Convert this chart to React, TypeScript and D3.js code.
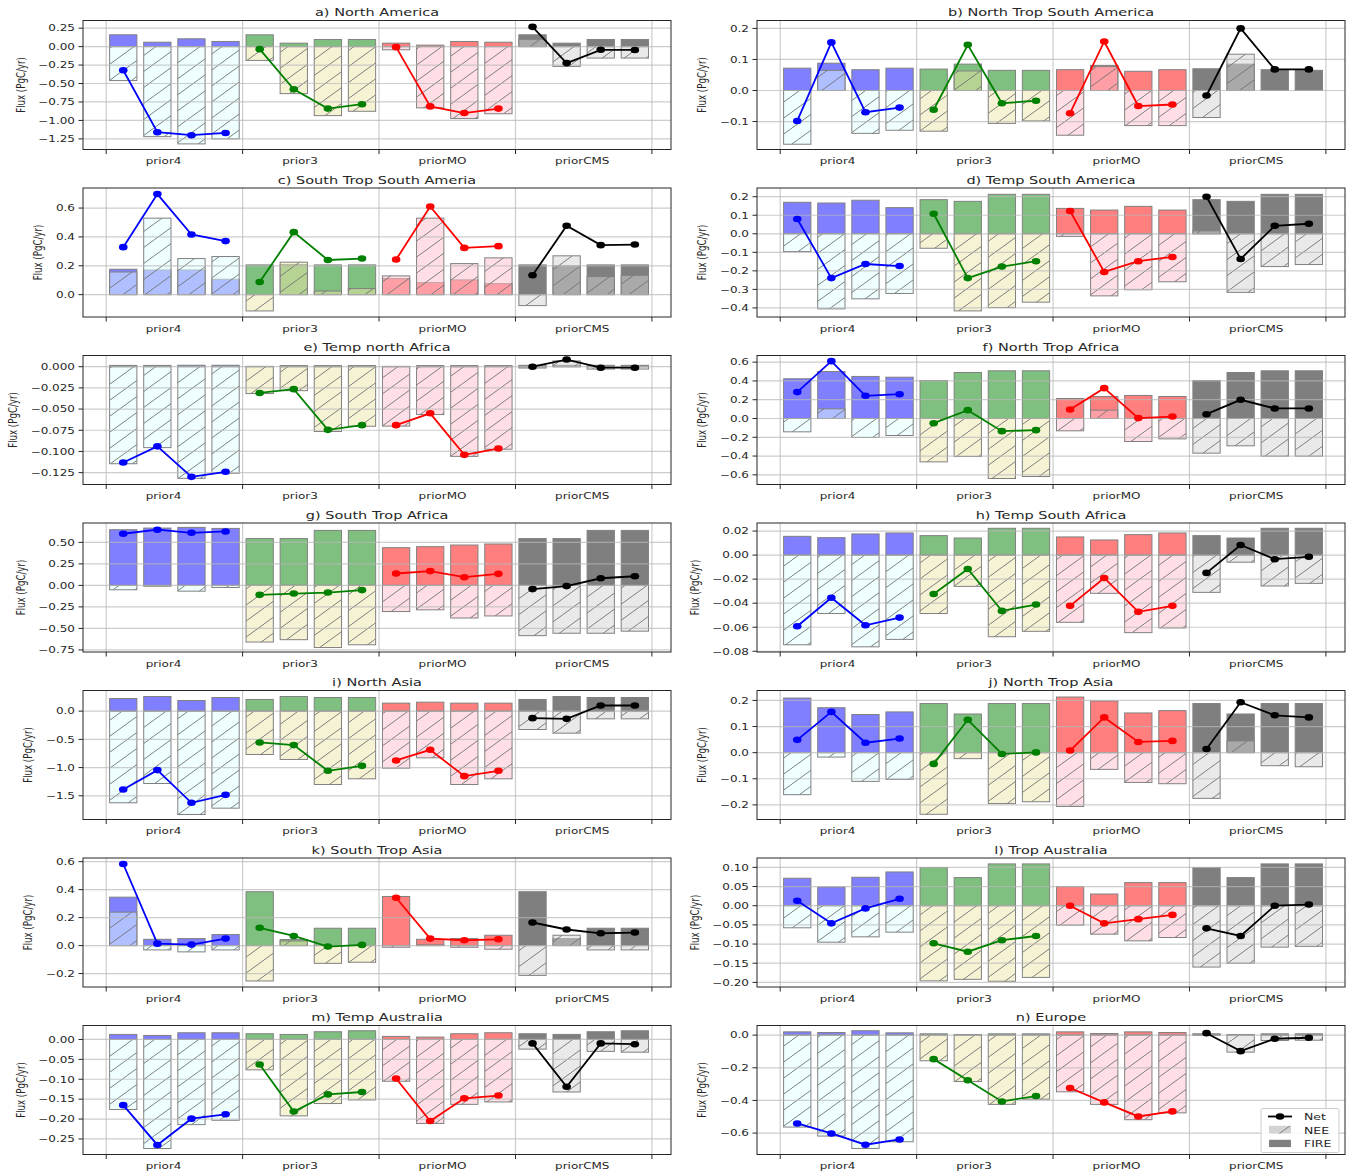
import React from 'react';
import * as d3 from 'd3';

// ---- categories / labels ----
const PRIORS = ['prior4', 'prior3', 'priorMO', 'priorCMS'];
const TITLES = [
  'a) North America', 'b) North Trop South America',
  'c) South Trop South Ameria', 'd) Temp South America',
  'e) Temp north Africa', 'f) North Trop Africa',
  'g) South Trop Africa', 'h) Temp South Africa',
  'i) North Asia', 'j) North Trop Asia',
  'k) South Trop Asia', 'l) Trop Australia',
  'm) Temp Australia', 'n) Europe',
];
const LEGEND_LABELS = ['Net', 'NEE', 'FIRE'];

// ---- values (PgC/yr), 4 experiments per prior, priors in PRIORS order ----
const FIRE_A = [0.16, 0.06, 0.106, 0.07, 0.16, 0.047, 0.097, 0.097, 0.047, 0.02, 0.07, 0.06, 0.16, 0.047, 0.097, 0.097];
const NEE_A = [-0.46, -1.22, -1.318, -1.25, -0.187, -0.637, -0.935, -0.876, -0.043, -0.83, -0.975, -0.91, 0.10, -0.268, -0.155, -0.155];
const NET_A = [-0.32, -1.16, -1.20, -1.17, -0.034, -0.579, -0.84, -0.78, -0.007, -0.81, -0.90, -0.84, 0.268, -0.223, -0.043, -0.045];
const YLIM_A = [-1.394, 0.354];
const TICKS_A = [0.25, 0, -0.25, -0.5, -0.75, -1.0, -1.25];

const FIRE_B = [0.072, 0.088, 0.067, 0.072, 0.069, 0.085, 0.065, 0.065, 0.067, 0.081, 0.062, 0.067, 0.07, 0.085, 0.067, 0.065];
const NEE_B = [-0.173, 0.065, -0.138, -0.128, -0.131, 0.063, -0.106, -0.098, -0.144, 0.077, -0.113, -0.113, -0.087, 0.117, 0.001, 0.002];
const NET_B = [-0.098, 0.155, -0.070, -0.055, -0.062, 0.147, -0.041, -0.033, -0.073, 0.158, -0.050, -0.045, -0.016, 0.2, 0.068, 0.068];
const YLIM_B = [-0.19, 0.2255];
const TICKS_B = [0.2, 0.1, 0, -0.1];

const FIRE_C = [0.176, 0.171, 0.171, 0.107, 0.206, 0.208, 0.206, 0.206, 0.111, 0.083, 0.102, 0.076, 0.206, 0.2, 0.206, 0.206];
const NEE_C = [0.157, 0.53, 0.25, 0.264, -0.113, 0.225, 0.025, 0.042, 0.13, 0.53, 0.215, 0.255, -0.076, 0.269, 0.125, 0.134];
const NET_C = [0.329, 0.697, 0.417, 0.371, 0.088, 0.433, 0.24, 0.25, 0.243, 0.611, 0.324, 0.336, 0.134, 0.477, 0.343, 0.347];
const YLIM_C = [-0.155, 0.739];
const TICKS_C = [0.6, 0.4, 0.2, 0];

const FIRE_D = [0.17, 0.166, 0.181, 0.141, 0.184, 0.175, 0.213, 0.213, 0.137, 0.128, 0.148, 0.128, 0.184, 0.175, 0.213, 0.213];
const NEE_D = [-0.096, -0.405, -0.351, -0.322, -0.078, -0.416, -0.398, -0.369, -0.014, -0.335, -0.302, -0.259, 0.016, -0.316, -0.177, -0.166];
const NET_D = [0.08, -0.239, -0.163, -0.174, 0.108, -0.239, -0.177, -0.148, 0.123, -0.206, -0.148, -0.125, 0.2, -0.136, 0.043, 0.054];
const YLIM_D = [-0.449, 0.247];
const TICKS_D = [0.2, 0.1, 0, -0.1, -0.2, -0.3, -0.4];

const FIRE_E = [0.0015, 0.0015, 0.0017, 0.0017, 0.0004, 0.0013, 0.0013, 0.0013, 0.0004, 0.0013, 0.0013, 0.0013, 0.0016, 0.0016, 0.0016, 0.0016];
const NEE_E = [-0.1145, -0.0955, -0.1317, -0.1257, -0.0317, -0.0283, -0.0765, -0.0703, -0.0701, -0.0565, -0.1058, -0.0974, -0.0016, 0.0068, -0.0028, -0.0028];
const NET_E = [-0.113, -0.094, -0.130, -0.124, -0.031, -0.0265, -0.0745, -0.069, -0.069, -0.055, -0.104, -0.0966, 0.0, 0.0084, -0.0012, -0.0012];
const YLIM_E = [-0.139, 0.0132];
const TICKS_E = [0, -0.025, -0.05, -0.075, -0.1, -0.125];

const FIRE_F = [0.423, 0.50, 0.448, 0.44, 0.405, 0.49, 0.508, 0.508, 0.213, 0.234, 0.245, 0.234, 0.405, 0.49, 0.508, 0.508];
const NEE_F = [-0.142, 0.103, -0.202, -0.181, -0.462, -0.405, -0.639, -0.618, -0.131, 0.089, -0.245, -0.217, -0.369, -0.291, -0.401, -0.401];
const NET_F = [0.281, 0.611, 0.242, 0.259, -0.05, 0.089, -0.135, -0.124, 0.096, 0.323, 0.004, 0.021, 0.046, 0.199, 0.107, 0.107];
const YLIM_F = [-0.703, 0.671];
const TICKS_F = [0.6, 0.4, 0.2, 0, -0.2, -0.4, -0.6];

const FIRE_G = [0.647, 0.666, 0.674, 0.662, 0.544, 0.544, 0.639, 0.639, 0.438, 0.45, 0.469, 0.481, 0.544, 0.544, 0.639, 0.639];
const NEE_G = [-0.051, -0.01, -0.067, -0.024, -0.658, -0.631, -0.722, -0.69, -0.304, -0.284, -0.379, -0.355, -0.584, -0.556, -0.556, -0.532];
const NET_G = [0.60, 0.647, 0.611, 0.627, -0.11, -0.095, -0.083, -0.055, 0.138, 0.166, 0.095, 0.134, -0.043, -0.008, 0.083, 0.106];
const YLIM_G = [-0.774, 0.725];
const TICKS_G = [0.5, 0.25, 0, -0.25, -0.5, -0.75];

const FIRE_H = [0.0156, 0.0145, 0.0176, 0.0184, 0.0162, 0.0142, 0.0223, 0.0223, 0.0151, 0.0126, 0.017, 0.0184, 0.0162, 0.0142, 0.0223, 0.0223];
const NEE_H = [-0.0746, -0.0486, -0.0763, -0.0701, -0.0486, -0.026, -0.0679, -0.0634, -0.0559, -0.0318, -0.0645, -0.0606, -0.031, -0.0059, -0.0257, -0.0235];
const NET_H = [-0.0592, -0.0355, -0.0584, -0.052, -0.0324, -0.0115, -0.0464, -0.0411, -0.0422, -0.019, -0.0472, -0.0422, -0.0148, 0.0084, -0.0034, -0.0014];
const YLIM_H = [-0.0806, 0.0267];
const TICKS_H = [0.02, 0, -0.02, -0.04, -0.06, -0.08];

const FIRE_I = [0.224, 0.26, 0.189, 0.242, 0.207, 0.26, 0.242, 0.242, 0.142, 0.159, 0.142, 0.142, 0.207, 0.26, 0.242, 0.242];
const NEE_I = [-1.624, -1.282, -1.831, -1.719, -0.768, -0.856, -1.30, -1.199, -1.01, -0.827, -1.30, -1.199, -0.325, -0.39, -0.136, -0.136];
const NET_I = [-1.388, -1.045, -1.624, -1.483, -0.555, -0.602, -1.057, -0.969, -0.874, -0.685, -1.152, -1.057, -0.124, -0.136, 0.10, 0.10];
const YLIM_I = [-1.92, 0.366];
const TICKS_I = [0, -0.5, -1.0, -1.5];

const FIRE_J = [0.209, 0.172, 0.146, 0.156, 0.188, 0.148, 0.188, 0.188, 0.213, 0.198, 0.152, 0.161, 0.188, 0.148, 0.188, 0.188];
const NEE_J = [-0.161, -0.017, -0.11, -0.102, -0.236, -0.023, -0.195, -0.188, -0.206, -0.064, -0.114, -0.119, -0.175, 0.045, -0.05, -0.054];
const NET_J = [0.049, 0.156, 0.038, 0.054, -0.043, 0.126, -0.005, 0.001, 0.008, 0.135, 0.041, 0.045, 0.014, 0.193, 0.143, 0.135];
const YLIM_J = [-0.256, 0.238];
const TICKS_J = [0.2, 0.1, 0, -0.1, -0.2];

const FIRE_K = [0.346, 0.045, 0.05, 0.079, 0.385, 0.043, 0.124, 0.124, 0.351, 0.045, 0.05, 0.074, 0.385, 0.05, 0.124, 0.124];
const NEE_K = [0.239, -0.031, -0.045, -0.031, -0.253, 0.033, -0.127, -0.119, -0.012, 0.005, -0.012, -0.026, -0.213, 0.074, -0.031, -0.031];
const NET_K = [0.583, 0.014, 0.007, 0.05, 0.127, 0.069, -0.007, 0.005, 0.342, 0.05, 0.038, 0.045, 0.165, 0.115, 0.088, 0.093];
const YLIM_K = [-0.296, 0.626];
const TICKS_K = [0.6, 0.4, 0.2, 0, -0.2];

const FIRE_L = [0.0716, 0.0489, 0.0742, 0.088, 0.0995, 0.0733, 0.109, 0.109, 0.0497, 0.0305, 0.0602, 0.0602, 0.0995, 0.0733, 0.109, 0.109];
const NEE_L = [-0.0576, -0.0951, -0.0812, -0.069, -0.196, -0.192, -0.197, -0.187, -0.0506, -0.0742, -0.0916, -0.0829, -0.16, -0.150, -0.108, -0.106];
const NET_L = [0.013, -0.046, -0.007, 0.018, -0.098, -0.120, -0.090, -0.079, 0.0, -0.046, -0.035, -0.024, -0.059, -0.079, 0.0, 0.003];
const YLIM_L = [-0.212, 0.1244];
const TICKS_L = [0.1, 0.05, 0, -0.05, -0.1, -0.15, -0.2];

const FIRE_M = [0.0126, 0.010, 0.0168, 0.0168, 0.0143, 0.0126, 0.0193, 0.0218, 0.0076, 0.0059, 0.0143, 0.0168, 0.0143, 0.0126, 0.0193, 0.0218];
const NEE_M = [-0.176, -0.274, -0.214, -0.203, -0.0763, -0.192, -0.161, -0.152, -0.105, -0.211, -0.163, -0.157, -0.0243, -0.132, -0.030, -0.032];
const NET_M = [-0.165, -0.265, -0.199, -0.188, -0.063, -0.181, -0.138, -0.132, -0.098, -0.205, -0.148, -0.141, -0.010, -0.119, -0.010, -0.012];
const YLIM_M = [-0.289, 0.035];
const TICKS_M = [0, -0.05, -0.1, -0.15, -0.2, -0.25];

const FIRE_N = [0.020, 0.016, 0.027, 0.014, 0.008, 0.004, 0.008, 0.008, 0.020, 0.010, 0.020, 0.016, 0.008, 0.004, 0.008, 0.008];
const NEE_N = [-0.563, -0.618, -0.694, -0.653, -0.157, -0.284, -0.424, -0.392, -0.347, -0.424, -0.518, -0.476, 0.004, -0.104, -0.033, -0.031];
const NET_N = [-0.541, -0.602, -0.671, -0.639, -0.147, -0.276, -0.406, -0.373, -0.324, -0.412, -0.498, -0.467, 0.012, -0.098, -0.022, -0.016];
const YLIM_N = [-0.731, 0.059];
const TICKS_N = [0, -0.2, -0.4, -0.6];

type PanelData = {
  title: string; fire: number[]; nee: number[]; net: number[];
  ylim: number[]; ticks: number[]; dec: number;
};

const PANELS: PanelData[] = [
  { title: TITLES[0], fire: FIRE_A, nee: NEE_A, net: NET_A, ylim: YLIM_A, ticks: TICKS_A, dec: 2 },
  { title: TITLES[1], fire: FIRE_B, nee: NEE_B, net: NET_B, ylim: YLIM_B, ticks: TICKS_B, dec: 1 },
  { title: TITLES[2], fire: FIRE_C, nee: NEE_C, net: NET_C, ylim: YLIM_C, ticks: TICKS_C, dec: 1 },
  { title: TITLES[3], fire: FIRE_D, nee: NEE_D, net: NET_D, ylim: YLIM_D, ticks: TICKS_D, dec: 1 },
  { title: TITLES[4], fire: FIRE_E, nee: NEE_E, net: NET_E, ylim: YLIM_E, ticks: TICKS_E, dec: 3 },
  { title: TITLES[5], fire: FIRE_F, nee: NEE_F, net: NET_F, ylim: YLIM_F, ticks: TICKS_F, dec: 1 },
  { title: TITLES[6], fire: FIRE_G, nee: NEE_G, net: NET_G, ylim: YLIM_G, ticks: TICKS_G, dec: 2 },
  { title: TITLES[7], fire: FIRE_H, nee: NEE_H, net: NET_H, ylim: YLIM_H, ticks: TICKS_H, dec: 2 },
  { title: TITLES[8], fire: FIRE_I, nee: NEE_I, net: NET_I, ylim: YLIM_I, ticks: TICKS_I, dec: 1 },
  { title: TITLES[9], fire: FIRE_J, nee: NEE_J, net: NET_J, ylim: YLIM_J, ticks: TICKS_J, dec: 1 },
  { title: TITLES[10], fire: FIRE_K, nee: NEE_K, net: NET_K, ylim: YLIM_K, ticks: TICKS_K, dec: 1 },
  { title: TITLES[11], fire: FIRE_L, nee: NEE_L, net: NET_L, ylim: YLIM_L, ticks: TICKS_L, dec: 2 },
  { title: TITLES[12], fire: FIRE_M, nee: NEE_M, net: NET_M, ylim: YLIM_M, ticks: TICKS_M, dec: 2 },
  { title: TITLES[13], fire: FIRE_N, nee: NEE_N, net: NET_N, ylim: YLIM_N, ticks: TICKS_N, dec: 1 },
];

// ---- styling ----
const FIRE_COLORS = ['blue', 'green', 'red', 'black'];
const NEE_COLORS = ['lightcyan', 'palegoldenrod', 'pink', 'lightgray'];
const LINE_COLORS = ['blue', '#008000', 'red', 'black'];

const W = 1363;
const H = 1175;
const COL_X = [83, 757];
const AX_W = 588;
const ROW_Y0 = 20.5;
const ROW_STEP = 167.5;
const AX_H = 129;
const SQ = 0.72; // vertical text compression of the figure
const FONT = "'DejaVu Sans', Verdana, sans-serif";
const HW = 22;
const HH = 16;
const GRID = '#b8b8b8';
const LABEL_OFFSET = 0.29; // group labels start this far into each group

function textWidth(s: string, size: number) {
  let w = 0;
  for (const c of s) w += c === '.' ? 0.318 : (c === '\u2212' || c === '-') ? 0.838 : 0.636;
  return w * size;
}

function Panel({ p, idx }: { p: PanelData; idx: number }) {
  const col = idx % 2;
  const row = Math.floor(idx / 2);
  const left = COL_X[col];
  const right = left + AX_W;
  const top = ROW_Y0 + row * ROW_STEP;
  const bottom = top + AX_H;
  const x = d3.scaleLinear().domain([-0.17, 4.14]).range([left, right]);
  const y = d3.scaleLinear().domain(p.ylim).range([bottom, top]);
  const fmt = d3.format(`.${p.dec}f`);
  const bw = x(0.2) - x(0);
  const labels = p.ticks.map((t) => fmt(t));
  const maxW = d3.max(labels, (s) => textWidth(s, 12)) || 0;
  const ylabX = left - 9 - maxW - 17;

  const bars: JSX.Element[] = [];
  PRIORS.forEach((_, g) => {
    for (let i = 0; i < 4; i++) {
      const k = g * 4 + i;
      const cx = g + (i + 0.5) * 0.25;
      const x0 = x(cx) - bw / 2;
      const f = p.fire[k];
      const n = p.nee[k];
      const fy = y(Math.max(0, f));
      const fh = Math.abs(y(f) - y(0));
      const ny = y(Math.max(0, n));
      const nh = Math.abs(y(n) - y(0));
      bars.push(
        <g key={`b${k}`}>
          <rect x={x0} y={fy} width={bw} height={fh} fill={FIRE_COLORS[g]} fillOpacity={0.5}
            stroke="#808080" strokeWidth={1} />
          <rect x={x0} y={ny} width={bw} height={nh} fill={NEE_COLORS[g]} fillOpacity={0.5} />
          <rect x={x0} y={ny} width={bw} height={nh} fill="url(#hatch)" />
          <rect x={x0} y={ny} width={bw} height={nh} fill="none" stroke="#808080" strokeWidth={1} />
        </g>
      );
    }
  });

  const line = d3.line<number>().x((_, i) => x((i + 0.5) * 0.25)).y((v) => y(v));

  return (
    <g>
      <rect x={left} y={top} width={AX_W} height={AX_H} fill="#fff" />
      {bars}
      {/* grid */}
      {p.ticks.map((t, i) => (
        <line key={`gy${i}`} x1={left} x2={right} y1={y(t)} y2={y(t)} stroke={GRID} strokeOpacity={0.7} strokeWidth={1.2} />
      ))}
      {[0, 1, 2, 3, 4].map((b) => (
        <line key={`gx${b}`} x1={x(b)} x2={x(b)} y1={top} y2={bottom} stroke={GRID} strokeOpacity={0.7} strokeWidth={1.2} />
      ))}
      {/* net lines */}
      {PRIORS.map((_, g) => {
        const vals = p.net.slice(g * 4, g * 4 + 4);
        return (
          <g key={`n${g}`} transform={`translate(${x(g) - x(0)},0)`}>
            <path d={line(vals) || ''} fill="none" stroke={LINE_COLORS[g]} strokeWidth={1.8} />
            {vals.map((v, i) => (
              <ellipse key={i} cx={x((i + 0.5) * 0.25)} cy={y(v)} rx={4.3} ry={3.3} fill={LINE_COLORS[g]} />
            ))}
          </g>
        );
      })}
      {/* frame */}
      <rect x={left} y={top} width={AX_W} height={AX_H} fill="none" stroke="#262626" strokeWidth={1} />
      {/* y ticks */}
      {p.ticks.map((t, i) => (
        <g key={`ty${i}`}>
          <line x1={left - 4.5} x2={left} y1={y(t)} y2={y(t)} stroke="#262626" strokeWidth={1} />
          <text transform={`translate(${left - 8},${y(t) + 3.3}) scale(1,${SQ})`} textAnchor="end" fontSize={12} fill="#262626">
            {labels[i]}
          </text>
        </g>
      ))}
      {/* x ticks */}
      {[0, 1, 2, 3, 4].map((b) => (
        <line key={`tx${b}`} x1={x(b)} x2={x(b)} y1={bottom} y2={bottom + 4.5} stroke="#262626" strokeWidth={1} />
      ))}
      {PRIORS.map((name, g) => (
        <text key={`xl${g}`} transform={`translate(${x(g + LABEL_OFFSET)},${bottom + 14.7}) scale(1,${SQ})`} textAnchor="start" fontSize={12} fill="#262626">
          {name}
        </text>
      ))}
      <text transform={`translate(${ylabX + 4.4},${(top + bottom) / 2}) scale(1,${SQ}) rotate(-90)`} textAnchor="middle" fontSize={12} fill="#262626">
        Flux (PgC/yr)
      </text>
      <text transform={`translate(${(left + right) / 2},${top - 4.5}) scale(1,${SQ})`} textAnchor="middle" fontSize={14.5} fill="#262626">
        {p.title}
      </text>
      {idx === PANELS.length - 1 && <Legend right={right} bottom={bottom} />}
    </g>
  );
}

function Legend({ right, bottom }: { right: number; bottom: number }) {
  const bx = right - 84;
  const by = bottom - 46;
  return (
    <g>
      <rect x={bx} y={by} width={78} height={44} rx={2} fill="#fff" fillOpacity={0.85} stroke="#cccccc" strokeWidth={1} />
      <line x1={bx + 7} x2={bx + 31} y1={by + 8} y2={by + 8} stroke="black" strokeWidth={1.8} />
      <ellipse cx={bx + 19} cy={by + 8} rx={4.3} ry={3.3} fill="black" />
      <rect x={bx + 8} y={by + 17.3} width={22} height={7.7} fill="lightgray" />
      <rect x={bx + 8} y={by + 17.3} width={22} height={7.7} fill="url(#hatch)" />
      <rect x={bx + 8} y={by + 31.3} width={22} height={7.3} fill="#808080" />
      {LEGEND_LABELS.map((s, i) => (
        <text key={s} transform={`translate(${bx + 43},${by + 11.8 + i * 13.5}) scale(1,${SQ})`} fontSize={12.5} fill="#262626">
          {s}
        </text>
      ))}
    </g>
  );
}

export default function App() {
  return (
    <svg width={W} height={H} viewBox={`0 0 ${W} ${H}`} fontFamily={FONT}
      style={{ position: 'absolute', left: 0, top: 0, background: '#fff' }}>
      <defs>
        <pattern id="hatch" patternUnits="userSpaceOnUse" width={HW} height={HH}>
          <path d={`M-2,${HH + 2 * HH / HW} L${HW + 2},${-2 * HH / HW}`} stroke="#707070" strokeWidth={0.9} />
        </pattern>
      </defs>
      <rect x={0} y={0} width={W} height={H} fill="#fff" />
      {PANELS.map((p, i) => (
        <Panel key={i} p={p} idx={i} />
      ))}
    </svg>
  );
}
